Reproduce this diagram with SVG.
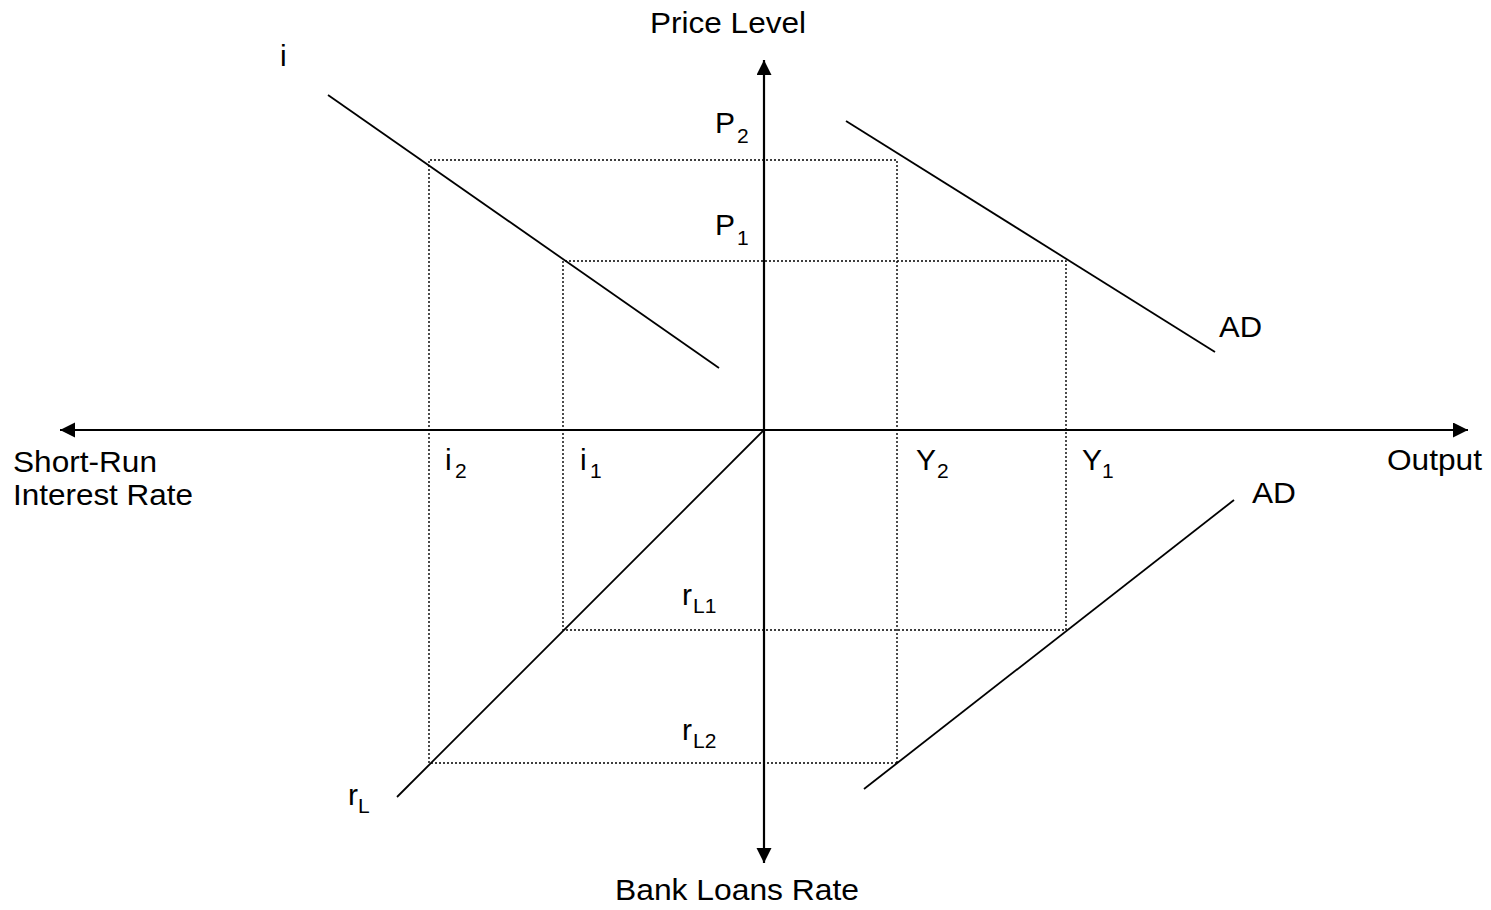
<svg xmlns="http://www.w3.org/2000/svg" width="1491" height="910" viewBox="0 0 1491 910">
<style>
text{font-family:"Liberation Sans",Arial,sans-serif;font-size:30px;fill:#000}
.sub{font-size:21px}
.axis{stroke:#000;stroke-width:2.2;fill:none}
.curve{stroke:#000;stroke-width:1.8;fill:none}
.guide{stroke:#000;stroke-width:1.4;stroke-dasharray:2 2;fill:none}
</style>
<defs>
<marker id="arr" markerUnits="userSpaceOnUse" markerWidth="16" markerHeight="16" refX="15" refY="7.5" orient="auto-start-reverse">
<path d="M0,0 L15,7.5 L0,15 z" fill="#000"/>
</marker>
</defs>
<rect width="1491" height="910" fill="#fff"/>
<g id="guides">
<polyline class="guide" points="897,763 897,160 429,160 429,763 897,763"/>
<polyline class="guide" points="1066,630 1066,261 563,261 563,630 1066,630"/>
</g>
<g id="axes">
<line class="axis" x1="60" y1="430" x2="1468" y2="430" marker-start="url(#arr)" marker-end="url(#arr)"/>
<line class="axis" x1="764" y1="60" x2="764" y2="863" marker-start="url(#arr)" marker-end="url(#arr)"/>
</g>
<g id="curves">
<line id="i-curve" class="curve" x1="328" y1="95" x2="719" y2="368"/>
<line id="ad-upper" class="curve" x1="846" y1="121" x2="1215" y2="352"/>
<line id="rl-curve" class="curve" x1="397" y1="797" x2="764" y2="430"/>
<line id="ad-lower" class="curve" x1="864" y1="789" x2="1234" y2="500"/>
</g>
<g id="labels">
<text x="650" y="33" textLength="156" lengthAdjust="spacingAndGlyphs">Price Level</text>
<text x="615" y="900" textLength="244" lengthAdjust="spacingAndGlyphs">Bank Loans Rate</text>
<text x="13" y="472" textLength="144" lengthAdjust="spacingAndGlyphs">Short-Run</text>
<text x="13" y="505" textLength="180" lengthAdjust="spacingAndGlyphs">Interest Rate</text>
<text x="1387" y="470" textLength="95" lengthAdjust="spacingAndGlyphs">Output</text>
<text x="280" y="66">i</text>
<text x="1219" y="337" textLength="43" lengthAdjust="spacingAndGlyphs">AD</text>
<text x="1252" y="503" textLength="44" lengthAdjust="spacingAndGlyphs">AD</text>
<text x="715" y="133">P</text><text class="sub" x="737" y="143">2</text>
<text x="715" y="235">P</text><text class="sub" x="737" y="245">1</text>
<text x="445" y="470">i</text><text class="sub" x="455" y="478">2</text>
<text x="580" y="470">i</text><text class="sub" x="590" y="478">1</text>
<text x="916" y="470">Y</text><text class="sub" x="937" y="478">2</text>
<text x="1082" y="470">Y</text><text class="sub" x="1102" y="478">1</text>
<text x="682" y="605">r</text><text class="sub" x="693" y="613">L1</text>
<text x="682" y="740">r</text><text class="sub" x="693" y="748">L2</text>
<text x="348" y="805">r</text><text class="sub" x="358" y="813">L</text>
</g>
</svg>
